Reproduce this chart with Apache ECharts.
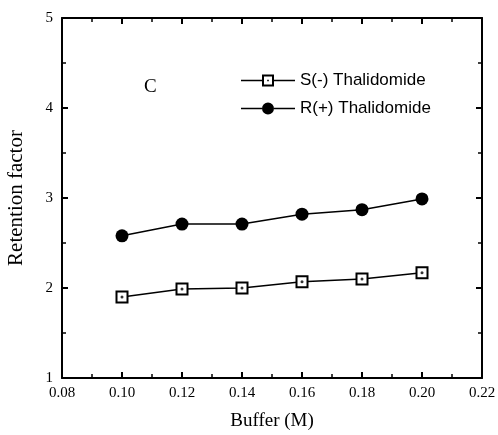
<!DOCTYPE html>
<html><head><meta charset="utf-8">
<script src="https://cdn.jsdelivr.net/npm/echarts@6/dist/echarts.min.js"></script>
<style>html,body{margin:0;padding:0;background:#fff}#c{width:498px;height:435px}</style>
</head><body><div id="c"></div>
<script>
const buffer = [0.10, 0.12, 0.14, 0.16, 0.18, 0.20];
const sThalidomide = [1.90, 1.99, 2.00, 2.07, 2.10, 2.17];
const rThalidomide = [2.58, 2.71, 2.71, 2.82, 2.87, 2.99];
const seriesNames = ['S(-) Thalidomide', 'R(+) Thalidomide'];
const panelLabel = 'C';

const pair = (ys) => buffer.map((x, i) => [x, ys[i]]);
const serif = '"Liberation Serif", "Times New Roman", serif';
const sans = '"Liberation Sans", Arial, sans-serif';

const sIcon = 'path://M0 5.3H21H21V6.7H0Z M21 0H33V12H21Z M23 2V10H31V2Z M26.2 5.2H27.8V6.8H26.2Z M33 5.3H54V6.7H33Z';
const rIcon = 'path://M0 5.3H21V6.7H0Z M27 0A6 6 0 1 1 27 12A6 6 0 1 1 27 0Z M33 5.3H54V6.7H33Z';

const axisLine = {show: true, lineStyle: {color: '#000', width: 2}};
const grid = {left: 62, right: 16, top: 18, bottom: 57, outerBoundsMode: 'none', containLabel: false};
const majorTick = {inside: true, length: 6, lineStyle: {color: '#000', width: 2}};
const minorTick = {show: true, splitNumber: 2, length: 4, lineStyle: {color: '#000', width: 1.5}};

const chart = echarts.init(document.getElementById('c'));
chart.setOption({
  animation: false,
  backgroundColor: '#fff',
  grid: grid,
  title: {text: panelLabel, left: 144, top: 78, padding: 0, textStyle: {fontFamily: serif, fontSize: 19, fontWeight: 'normal', color: '#000'}},
  legend: {
    orient: 'vertical', left: 241, top: 72, padding: 0, itemGap: 11,
    itemWidth: 54, itemHeight: 12,
    textStyle: {fontFamily: sans, fontSize: 17, color: '#000'},
    data: [{name: seriesNames[0], icon: sIcon, itemStyle: {color: '#000', borderWidth: 0}},
           {name: seriesNames[1], icon: rIcon, itemStyle: {color: '#000', borderWidth: 0}}]
  },
  xAxis: [{
    type: 'value', min: 0.08, max: 0.22, interval: 0.02,
    name: 'Buffer (M)', nameLocation: 'middle', nameGap: 34,
    nameTextStyle: {fontFamily: serif, fontSize: 19, color: '#000'},
    axisLine: axisLine, axisTick: majorTick, minorTick: minorTick,
    axisLabel: {fontFamily: serif, fontSize: 15, color: '#000', margin: 8, formatter: v => v.toFixed(2)},
    splitLine: {show: false}
  }, {
    type: 'value', position: 'top', min: 0.08, max: 0.22, interval: 0.02,
    axisLine: axisLine, axisTick: majorTick, minorTick: minorTick,
    axisLabel: {show: false}, splitLine: {show: false}
  }],
  yAxis: [{
    type: 'value', min: 1, max: 5, interval: 1,
    name: 'Retention factor', nameLocation: 'middle', nameGap: 35,
    nameTextStyle: {fontFamily: serif, fontSize: 21, color: '#000'},
    axisLine: axisLine, axisTick: majorTick, minorTick: minorTick,
    axisLabel: {fontFamily: serif, fontSize: 15, color: '#000', margin: 9},
    splitLine: {show: false}
  }, {
    type: 'value', position: 'right', min: 1, max: 5, interval: 1,
    axisLine: axisLine, axisTick: majorTick, minorTick: minorTick,
    axisLabel: {show: false}, splitLine: {show: false}
  }],
  series: [{
    name: seriesNames[0], type: 'line', data: pair(sThalidomide),
    symbol: 'rect', symbolSize: 11,
    itemStyle: {color: '#fff', borderColor: '#000', borderWidth: 2},
    lineStyle: {color: '#000', width: 1.5}, z: 3
  }, {
    name: 'sdot', type: 'scatter', data: pair(sThalidomide),
    symbol: 'circle', symbolSize: 3, itemStyle: {color: '#000'}, silent: true, z: 4
  }, {
    name: seriesNames[1], type: 'line', data: pair(rThalidomide),
    symbol: 'circle', symbolSize: 13,
    itemStyle: {color: '#000'},
    lineStyle: {color: '#000', width: 1.5}, z: 3
  }]
});
</script></body></html>
